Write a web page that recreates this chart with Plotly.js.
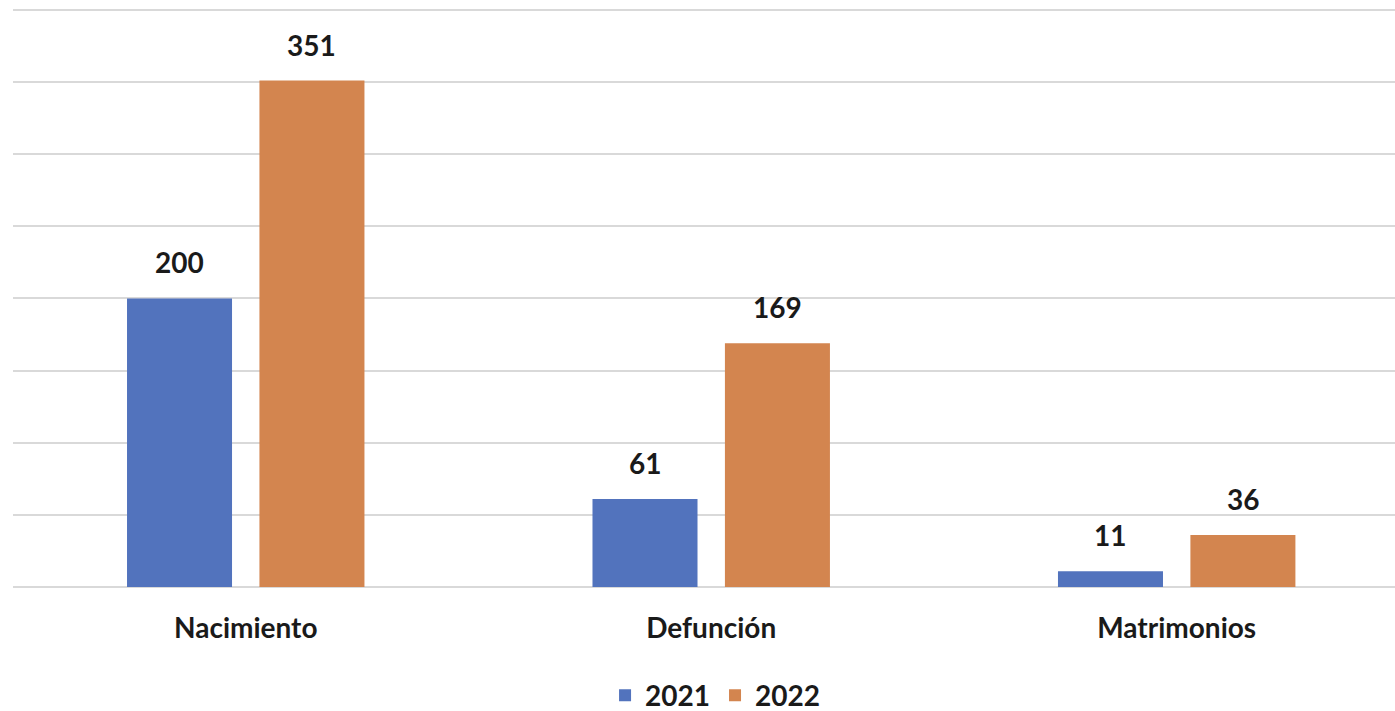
<!DOCTYPE html>
<html>
<head>
<meta charset="utf-8">
<script src="https://cdn.plot.ly/plotly-3.0.1.min.js"></script>
<style>html,body{margin:0;padding:0;background:#fff;}#chart{width:1395px;height:711px;}</style>
</head>
<body>
<div id="chart"></div>
<script>
const categories = ["Nacimiento", "Defunción", "Matrimonios"];
const seriesNames = ["2021", "2022"];
const values2021 = [200, 61, 11];
const values2022 = [351, 169, 36];
const colors = ["#5273BD", "#D3854F"];

const bargap = 0.431;
const bargroupgap = 0.207;
const slot = (1 - bargap) / 2;
const series = [values2021, values2022];
const fontFamily = "Lato, 'Open Sans', sans-serif";

const traces = series.map((vals, s) => ({
  type: "bar",
  name: seriesNames[s],
  x: categories,
  y: vals,
  marker: {color: colors[s]},
  hoverinfo: "x+y+name"
}));

const annotations = [];
series.forEach((vals, s) => {
  vals.forEach((v, i) => {
    annotations.push({
      x: i + (s === 0 ? -slot / 2 : slot / 2),
      y: v,
      xref: "x", yref: "y",
      text: String(v),
      showarrow: false,
      yanchor: "bottom",
      yshift: 17,
      font: {family: fontFamily, size: 28, color: "#1a1a1a", weight: "bold"}
    });
  });
});

const layout = {
  width: 1395, height: 711,
  margin: {l: 13, r: 0, t: 7, b: 123.5, autoexpand: false},
  paper_bgcolor: "#fff", plot_bgcolor: "#fff",
  barmode: "group",
  bargap: bargap,
  bargroupgap: bargroupgap,
  showlegend: true,
  legend: {
    orientation: "h", x: 0.508, xanchor: "center", y: -0.187, yanchor: "middle",
    font: {family: fontFamily, size: 28, color: "#1a1a1a", weight: "bold"},
    itemclick: false
  },
  xaxis: {
    type: "category",
    range: [-0.5, 2.469],
    automargin: false,
    showgrid: false, zeroline: false, showline: false,
    ticks: "", ticklabelstandoff: 22,
    tickfont: {family: fontFamily, size: 28, color: "#1a1a1a", weight: "bold"}
  },
  yaxis: {
    range: [0, 402],
    automargin: false,
    dtick: 50, tick0: 0,
    showticklabels: false,
    showgrid: true, gridcolor: "#d9d9d9", gridwidth: 2,
    zeroline: true, zerolinecolor: "#d9d9d9", zerolinewidth: 2,
    showline: false, ticks: ""
  },
  annotations: annotations
};

Plotly.newPlot("chart", traces, layout, {displayModeBar: false, staticPlot: true});
</script>
</body>
</html>
